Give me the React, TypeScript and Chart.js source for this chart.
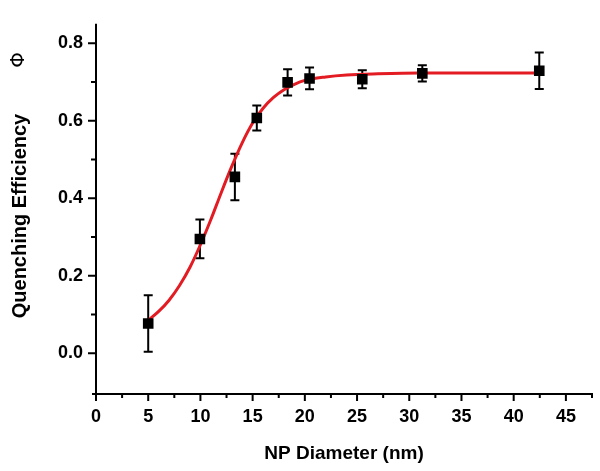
import React, { useEffect, useRef } from 'react';
import { Chart, registerables } from 'chart.js';

Chart.register(...registerables);

// Measured data (NP diameter in nm, quenching efficiency, error)
const diameters = [5, 9.95, 13.3, 15.4, 18.35, 20.45, 25.5, 31.25, 42.45];
const efficiency = [0.077, 0.295, 0.455, 0.607, 0.699, 0.709, 0.707, 0.722, 0.729];
const errors = [0.073, 0.05, 0.06, 0.032, 0.034, 0.028, 0.023, 0.021, 0.047];

// Fitted curve
const fitX = [5, 6, 7, 8, 9, 10, 11, 12, 13, 14, 15, 16, 17, 18, 19, 20, 22, 24, 27, 31, 36, 42.5];
const fitY = [0.085, 0.108, 0.137, 0.175, 0.222, 0.28, 0.345, 0.415, 0.482, 0.543, 0.594, 0.632, 0.66, 0.68, 0.694, 0.704, 0.713, 0.718, 0.721, 0.723, 0.723, 0.723];

// Ticks
const xMajorTicks = [0, 5, 10, 15, 20, 25, 30, 35, 40, 45];
const xMinorTicks = [2.5, 7.5, 12.5, 17.5, 22.5, 27.5, 32.5, 37.5, 42.5, 47.5];
const yMajorTicks = [0, 0.2, 0.4, 0.6, 0.8];
const yMinorTicks = [0.1, 0.3, 0.5, 0.7];

const xTitle = 'NP Diameter (nm)';
const yTitle = 'Quenching Efficiency';
const yTitleSymbol = 'Φ';

const FONT = '"Liberation Sans", Arial, sans-serif';

const errorBarPlugin = {
  id: 'errorBars',
  beforeDatasetsDraw(chart: any) {
    const { ctx } = chart;
    const x = chart.scales.x;
    const y = chart.scales.y;
    ctx.save();
    ctx.strokeStyle = '#000';
    ctx.lineWidth = 2;
    diameters.forEach((d, i) => {
      const px = x.getPixelForValue(d);
      const top = y.getPixelForValue(efficiency[i] + errors[i]);
      const bot = y.getPixelForValue(efficiency[i] - errors[i]);
      ctx.beginPath();
      ctx.moveTo(px, top);
      ctx.lineTo(px, bot);
      ctx.moveTo(px - 4.5, top);
      ctx.lineTo(px + 4.5, top);
      ctx.moveTo(px - 4.5, bot);
      ctx.lineTo(px + 4.5, bot);
      ctx.stroke();
    });
    ctx.restore();
  },
};

const axesPlugin = {
  id: 'axesAndTitles',
  afterDraw(chart: any) {
    const { ctx, chartArea } = chart;
    const x = chart.scales.x;
    const y = chart.scales.y;
    const left = chartArea.left;
    const bottom = chartArea.bottom;
    ctx.save();
    ctx.strokeStyle = '#000';
    ctx.lineWidth = 2;
    ctx.lineCap = 'butt';
    // axis lines
    ctx.beginPath();
    ctx.moveTo(left - 4, bottom);
    ctx.lineTo(chartArea.right, bottom);
    ctx.moveTo(left, chartArea.top);
    ctx.lineTo(left, bottom + 1);
    // x ticks
    xMajorTicks.forEach((v) => {
      const p = x.getPixelForValue(v);
      ctx.moveTo(p, bottom - 1);
      ctx.lineTo(p, bottom + 7);
    });
    xMinorTicks.forEach((v) => {
      const p = x.getPixelForValue(v);
      ctx.moveTo(p, bottom - 1);
      ctx.lineTo(p, bottom + 4);
    });
    // y ticks
    yMajorTicks.forEach((v) => {
      const p = y.getPixelForValue(v);
      ctx.moveTo(left + 1, p);
      ctx.lineTo(left - 8, p);
    });
    yMinorTicks.forEach((v) => {
      const p = y.getPixelForValue(v);
      ctx.moveTo(left + 1, p);
      ctx.lineTo(left - 5, p);
    });
    ctx.stroke();

    // titles
    ctx.fillStyle = '#000';
    ctx.font = `bold 19px ${FONT}`;
    ctx.textAlign = 'center';
    ctx.textBaseline = 'alphabetic';
    ctx.fillText(xTitle, (chartArea.left + chartArea.right) / 2, 458.5);

    ctx.save();
    ctx.translate(25.5, 216);
    ctx.rotate(-Math.PI / 2);
    ctx.font = `bold 20px ${FONT}`;
    ctx.textAlign = 'center';
    ctx.textBaseline = 'alphabetic';
    ctx.fillText(yTitle, 0, 0);
    ctx.restore();

    ctx.save();
    ctx.translate(18.5, 60);
    ctx.rotate(-Math.PI / 2);
    ctx.font = `20px "DejaVu Sans", sans-serif`;
    ctx.textAlign = 'center';
    ctx.textBaseline = 'middle';
    ctx.fillText(yTitleSymbol, 0, 0);
    ctx.restore();

    ctx.restore();
  },
};

export default function App() {
  const canvasRef = useRef<HTMLCanvasElement | null>(null);

  useEffect(() => {
    if (!canvasRef.current) return;
    const chart = new Chart(canvasRef.current, {
      type: 'scatter',
      data: {
        datasets: [
          {
            type: 'scatter',
            label: 'Data',
            data: diameters.map((d, i) => ({ x: d, y: efficiency[i] })),
            pointStyle: 'rect',
            pointRadius: 7.5,
            backgroundColor: '#000',
            borderColor: '#000',
            borderWidth: 0,
            order: 0,
          },
          {
            type: 'line',
            label: 'Fit',
            data: fitX.map((v, i) => ({ x: v, y: fitY[i] })),
            borderColor: '#e31b23',
            borderWidth: 3,
            pointRadius: 0,
            fill: false,
            cubicInterpolationMode: 'monotone',
            order: 1,
          },
        ],
      } as any,
      options: {
        animation: false,
        responsive: true,
        maintainAspectRatio: false,
        events: [],
        layout: { padding: { top: 7, right: 8, left: 0, bottom: 0 } },
        plugins: {
          legend: { display: false },
          tooltip: { enabled: false },
        },
        scales: {
          x: {
            type: 'linear',
            position: 'bottom',
            min: 0,
            max: 47.5,
            afterFit: (scale: any) => {
              scale.height = 77;
            },
            afterBuildTicks: (scale: any) => {
              scale.ticks = xMajorTicks.map((v) => ({ value: v }));
            },
            ticks: {
              color: '#000',
              font: { family: FONT, size: 18, weight: 'bold' },
              padding: 12,
              maxRotation: 0,
              autoSkip: false,
              callback: (v: any) => String(v),
            },
            grid: { display: false, drawTicks: false, tickLength: 0 },
            border: { display: false },
          },
          y: {
            type: 'linear',
            position: 'left',
            min: -0.105,
            max: 0.85,
            afterFit: (scale: any) => {
              scale.width = 96;
            },
            afterBuildTicks: (scale: any) => {
              scale.ticks = yMajorTicks.map((v) => ({ value: v }));
            },
            ticks: {
              color: '#000',
              font: { family: FONT, size: 18, weight: 'bold' },
              padding: 13,
              autoSkip: false,
              callback: (v: any) => Number(v).toFixed(1),
            },
            grid: { display: false, drawTicks: false, tickLength: 0 },
            border: { display: false },
          },
        },
      } as any,
      plugins: [errorBarPlugin, axesPlugin],
    });
    return () => chart.destroy();
  }, []);

  return (
    <div style={{ position: 'fixed', left: 0, top: 0, width: 600, height: 471, background: '#fff' }}>
      <canvas ref={canvasRef} />
    </div>
  );
}
